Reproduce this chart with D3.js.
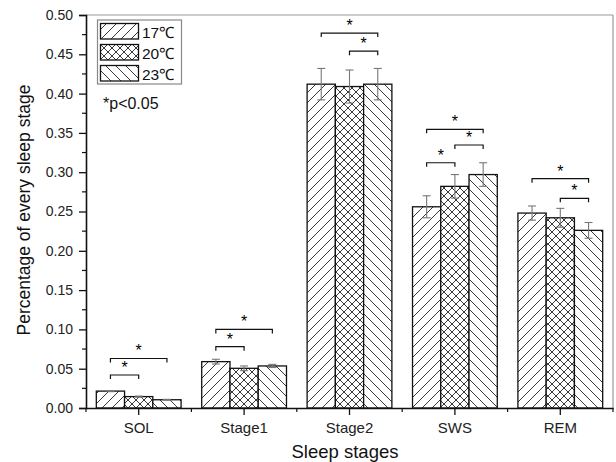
<!DOCTYPE html>
<html>
<head>
<meta charset="utf-8">
<script src="https://cdn.jsdelivr.net/npm/d3@7"></script>
<style>
  body { margin: 0; background: #fff; }
  svg { font-family: "Liberation Sans", Arial, sans-serif; }
</style>
</head>
<body>
<div id="chart"></div>
<script>
// data
var stages = ["SOL", "Stage1", "Stage2", "SWS", "REM"];
var temps = ["17\u2103", "20\u2103", "23\u2103"];
var means17 = [0.0215, 0.059, 0.412, 0.256, 0.248];
var means20 = [0.0145, 0.0505, 0.409, 0.282, 0.242];
var means23 = [0.0105, 0.0535, 0.412, 0.297, 0.226];
var err17 = [0.0007, 0.003, 0.020, 0.014, 0.009];
var err20 = [0.0006, 0.003, 0.021, 0.015, 0.012];
var err23 = [0.0005, 0.002, 0.020, 0.015, 0.010];
var yTicks = [0, 0.05, 0.1, 0.15, 0.2, 0.25, 0.3, 0.35, 0.4, 0.45, 0.5];
// significance brackets: stage, from series, to series, height
var brackets = [
  ["SOL", 0, 1, 0.042], ["SOL", 0, 2, 0.063],
  ["Stage1", 0, 1, 0.078], ["Stage1", 0, 2, 0.100],
  ["Stage2", 0, 2, 0.477], ["Stage2", 1, 2, 0.454],
  ["SWS", 0, 2, 0.3546], ["SWS", 1, 2, 0.3346], ["SWS", 0, 1, 0.312],
  ["REM", 0, 2, 0.2917], ["REM", 1, 2, 0.2668]
];

var means = [means17, means20, means23];
var errs = [err17, err20, err23];

var W = 616, H = 462;
var svg = d3.select("#chart").append("svg").attr("width", W).attr("height", H);

var defs = svg.append("defs");
function hatch(id, size, paths) {
  var p = defs.append("pattern").attr("id", id)
    .attr("patternUnits", "userSpaceOnUse")
    .attr("width", size).attr("height", size);
  p.append("rect").attr("width", size).attr("height", size).attr("fill", "#fff");
  paths.forEach(function(d) {
    p.append("path").attr("d", d).attr("stroke", "#222").attr("stroke-width", 0.9).attr("fill", "none");
  });
}
hatch("h17", 10, ["M0,10 L10,0", "M-5,5 L5,-5", "M5,15 L15,5"]);
hatch("h20", 8, ["M0,8 L8,0", "M-4,4 L4,-4", "M4,12 L12,4", "M0,0 L8,8", "M-4,4 L4,12", "M4,-4 L12,4"]);
hatch("h23", 10, ["M0,0 L10,10", "M-5,5 L5,15", "M5,-5 L15,5"]);
var fills = ["url(#h17)", "url(#h20)", "url(#h23)"];

var pLeft = 86, pRight = 613, pTop = 15, pBottom = 408;

var x = d3.scaleBand().domain(stages).range([pLeft, pRight]).paddingInner(0).paddingOuter(0);
var xi = d3.scaleBand().domain([0, 1, 2]).range([0, x.bandwidth()]).paddingInner(0).paddingOuter(0.365);
var y = d3.scaleLinear().domain([0, 0.5]).range([pBottom, pTop]);

// frame
svg.append("line").attr("x1", pLeft).attr("x2", pRight).attr("y1", pTop).attr("y2", pTop)
  .attr("stroke", "#999").attr("stroke-width", 1.2);
svg.append("line").attr("x1", pRight).attr("x2", pRight).attr("y1", pTop).attr("y2", pBottom)
  .attr("stroke", "#999").attr("stroke-width", 1.2);

// bars
var rows = [];
stages.forEach(function(s, i) {
  [0, 1, 2].forEach(function(k) {
    rows.push({stage: s, k: k, v: means[k][i], e: errs[k][i]});
  });
});

svg.append("g").selectAll("rect").data(rows).enter().append("rect")
  .attr("x", function(d) { return x(d.stage) + xi(d.k); })
  .attr("y", function(d) { return y(d.v); })
  .attr("width", xi.bandwidth())
  .attr("height", function(d) { return y(0) - y(d.v); })
  .attr("fill", function(d) { return fills[d.k]; })
  .attr("stroke", "#111").attr("stroke-width", 1.3);

// error bars
var eb = svg.append("g").attr("stroke", "#777").attr("stroke-width", 1.1);
rows.forEach(function(d) {
  var cx = x(d.stage) + xi(d.k) + xi.bandwidth() / 2;
  eb.append("line").attr("x1", cx).attr("x2", cx).attr("y1", y(d.v + d.e)).attr("y2", y(d.v - d.e));
  eb.append("line").attr("x1", cx - 4).attr("x2", cx + 4).attr("y1", y(d.v + d.e)).attr("y2", y(d.v + d.e));
  eb.append("line").attr("x1", cx - 4).attr("x2", cx + 4).attr("y1", y(d.v - d.e)).attr("y2", y(d.v - d.e));
});

// brackets
var bg = svg.append("g");
brackets.forEach(function(b) {
  var x1 = x(b[0]) + xi(b[1]) + xi.bandwidth() / 2;
  var x2 = x(b[0]) + xi(b[2]) + xi.bandwidth() / 2;
  var yy = y(b[3]);
  bg.append("path").attr("d", "M" + x1 + "," + (yy + 4) + "V" + yy + "H" + x2 + "V" + (yy + 4))
    .attr("fill", "none").attr("stroke", "#111").attr("stroke-width", 1.2);
  bg.append("text").attr("x", (x1 + x2) / 2).attr("y", yy - 2)
    .attr("text-anchor", "middle").style("font-size", "16px").attr("fill", "#000").text("*");
});

// y axis
var yAxis = svg.append("g").attr("transform", "translate(" + pLeft + ",0)")
  .call(d3.axisLeft(y).tickValues(yTicks).tickFormat(d3.format(".2f")).tickSize(7).tickPadding(6));
yAxis.select(".domain").attr("stroke", "#111").attr("stroke-width", 1.6);
yAxis.selectAll(".tick line").attr("stroke", "#111").attr("stroke-width", 1.3);
yAxis.selectAll("text").style("font-size", "14px").attr("fill", "#222").style("font-family", "Liberation Sans, Arial, sans-serif");
var yMinor = d3.range(0.025, 0.5, 0.05);
svg.append("g").selectAll("line").data(yMinor).enter().append("line")
  .attr("x1", pLeft - 4).attr("x2", pLeft).attr("y1", function(d) { return y(d); }).attr("y2", function(d) { return y(d); })
  .attr("stroke", "#111").attr("stroke-width", 1.2);

// x axis
var xAxis = svg.append("g").attr("transform", "translate(0," + pBottom + ")")
  .call(d3.axisBottom(x).tickSize(7).tickPadding(7).tickSizeOuter(0));
xAxis.select(".domain").attr("stroke", "#111").attr("stroke-width", 1.6);
xAxis.selectAll(".tick line").attr("stroke", "#111").attr("stroke-width", 1.3);
xAxis.selectAll("text").style("font-size", "15px").attr("fill", "#222").style("font-family", "Liberation Sans, Arial, sans-serif");
var xEdges = stages.map(function(s) { return x(s); }).concat([pRight]);
svg.append("g").selectAll("line").data(xEdges).enter().append("line")
  .attr("x1", function(d) { return d; }).attr("x2", function(d) { return d; })
  .attr("y1", pBottom).attr("y2", pBottom + 4)
  .attr("stroke", "#111").attr("stroke-width", 1.2);

// axis titles
svg.append("text").attr("x", 345).attr("y", 458)
  .attr("text-anchor", "middle").style("font-size", "18.5px").attr("fill", "#111").text("Sleep stages");
svg.append("text").attr("transform", "translate(30,210) rotate(-90)")
  .attr("text-anchor", "middle").style("font-size", "17.5px").attr("fill", "#111").text("Percentage of every sleep stage");

// legend
var lg = svg.append("g");
lg.append("rect").attr("x", 97.5).attr("y", 20).attr("width", 84).attr("height", 64)
  .attr("fill", "#fff").attr("stroke", "#888").attr("stroke-width", 1.2);
temps.forEach(function(t, k) {
  var yy = 23.5 + k * 21;
  lg.append("rect").attr("x", 100.5).attr("y", yy).attr("width", 38).attr("height", 15.5)
    .attr("fill", fills[k]).attr("stroke", "#111").attr("stroke-width", 1.3);
  lg.append("text").attr("x", 142).attr("y", yy + 14).style("font-size", "15.5px").attr("fill", "#111").text(t);
});
svg.append("text").attr("x", 103).attr("y", 109).style("font-size", "16px").attr("fill", "#111").text("*p<0.05");
</script>
</body>
</html>
